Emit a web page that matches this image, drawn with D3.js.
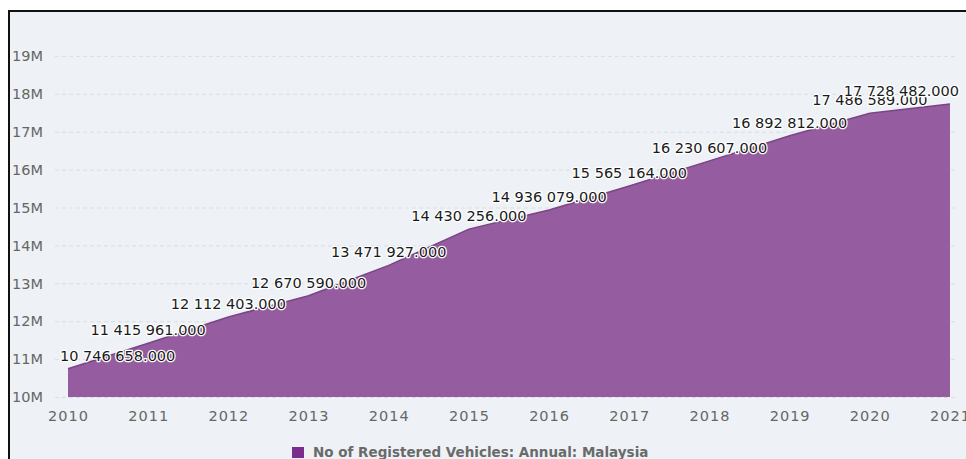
<!DOCTYPE html>
<html>
<head>
<meta charset="utf-8">
<script src="https://cdn.jsdelivr.net/npm/d3@7"></script>
<style>
  body { margin: 0; background: #ffffff; }
  svg { display: block; }
</style>
</head>
<body>
<svg id="chart"></svg>
<script>
// data
var years = [2010, 2011, 2012, 2013, 2014, 2015, 2016, 2017, 2018, 2019, 2020, 2021];
var vehicles = [10746658, 11415961, 12112403, 12670590, 13471927, 14430256,
                14936079, 15565164, 16230607, 16892812, 17486589, 17728482];
var yTicks = [10e6, 11e6, 12e6, 13e6, 14e6, 15e6, 16e6, 17e6, 18e6, 19e6];
var seriesName = "No of Registered Vehicles: Annual: Malaysia";

function drawChart(){
    //layout
    let width = 966, height = 459;
    let plot = {left: 55, right: 958, top: 18, bottom: 397};
    let svg = d3.select("#chart")
        .attr("width", width)
        .attr("height", height);

    // background + border
    svg.append("rect")
        .attr("x", 9).attr("y", 11)
        .attr("width", width - 9).attr("height", height - 11)
        .style("fill", "#eef2f6");
    svg.append("path")
        .attr("d", "M9," + height + "V11H" + width)
        .style("fill", "none")
        .style("stroke", "#111")
        .style("stroke-width", 2);

    let data = years.map(function (y, i) { return {year: y, value: vehicles[i]}; });

    let xLinear = d3.scaleLinear()
        .domain([2010, 2021])
        .range([68, 950]);
    let yLinear = d3.scaleLinear()
        .domain([10e6, 20e6])
        .range([plot.bottom, plot.top]);

    // grid lines
    svg.selectAll(".grid")
        .data(yTicks)
        .enter()
        .append("line")
        .attr("class", "grid")
        .attr("x1", plot.left)
        .attr("x2", plot.right)
        .attr("y1", function (d) { return yLinear(d) + 0.5; })
        .attr("y2", function (d) { return yLinear(d) + 0.5; })
        .style("stroke", "#d9dee4")
        .style("stroke-width", 1)
        .style("stroke-dasharray", "4,3");

    // y labels
    svg.selectAll(".ylab")
        .data(yTicks)
        .enter()
        .append("text")
        .attr("class", "ylab")
        .attr("x", 12)
        .attr("y", function (d) { return yLinear(d); })
        .attr("dy", "0.36em")
        .text(function (d) { return (d / 1e6) + "M"; })
        .style("font-family", "DejaVu Sans")
        .style("font-size", "14.5px")
        .style("fill", "#666");

    // area
    let area = d3.area()
        .x(function (d) { return xLinear(d.year); })
        .y0(yLinear(10e6))
        .y1(function (d) { return yLinear(d.value); });
    svg.append("path")
        .datum(data)
        .attr("d", area)
        .style("fill", "#955ca0");
    let line = d3.line()
        .x(function (d) { return xLinear(d.year); })
        .y(function (d) { return yLinear(d.value); });
    svg.append("path")
        .datum(data)
        .attr("d", line)
        .style("fill", "none")
        .style("stroke", "#7a4485")
        .style("stroke-width", 1.5);

    // x axis
    let xAxis = d3.axisBottom(xLinear)
        .tickValues(years)
        .tickFormat(d3.format("d"))
        .tickSize(0)
        .tickPadding(14);
    let gx = svg.append("g")
        .attr("transform", "translate(0," + plot.bottom + ")")
        .call(xAxis);
    gx.select(".domain").remove();
    gx.selectAll("text")
        .style("font-family", "DejaVu Sans")
        .style("font-size", "14.5px")
        .style("letter-spacing", "1px")
        .style("fill", "#666");

    // data labels
    let fmt = function (v) {
        return d3.format(",.3f")(v).replace(/,/g, " ");
    };
    let labels = svg.selectAll(".dlab")
        .data(data)
        .enter()
        .append("text")
        .attr("class", "dlab")
        .attr("y", function (d) { return yLinear(d.value) - 8; })
        .attr("text-anchor", "start")
        .text(function (d) { return fmt(d.value); })
        .style("font-family", "DejaVu Sans")
        .style("font-size", "14.5px")
        .style("fill", "#1a1a1a")
        .style("stroke", "#ffffff")
        .style("stroke-width", 2.5)
        .style("stroke-linejoin", "round")
        .style("paint-order", "stroke");
    labels.attr("x", function (d) {
        let w = this.getComputedTextLength();
        let x = xLinear(d.year) - w / 2;
        if (x < plot.left + 5) x = plot.left + 5;
        if (x + w > plot.right + 1) x = plot.right + 1 - w;
        return x;
    });

    // legend
    let legend = svg.append("g");
    legend.append("rect")
        .attr("x", 292).attr("y", 447)
        .attr("width", 12).attr("height", 11)
        .style("fill", "#7b2d8e");
    legend.append("text")
        .attr("x", 313).attr("y", 457)
        .text(seriesName)
        .style("font-family", "DejaVu Sans")
        .style("font-size", "13.5px")
        .style("font-weight", "bold")
        .style("fill", "#6a6a6a");
}
drawChart();
</script>
</body>
</html>
